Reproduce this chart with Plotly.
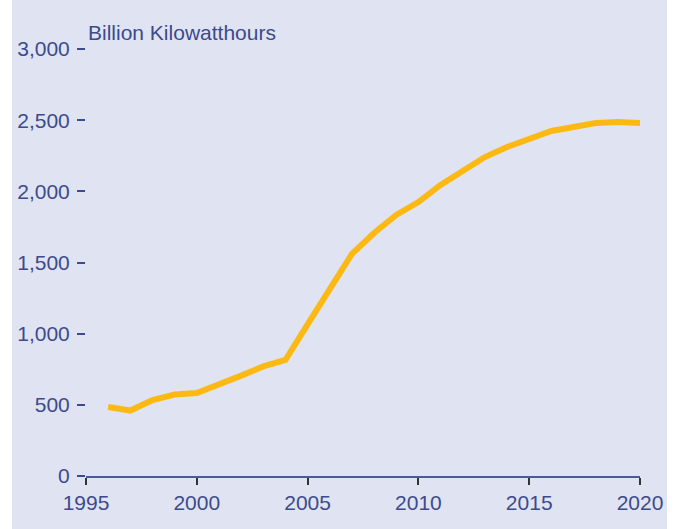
import plotly.graph_objects as go

years = list(range(1996, 2021))
values = [485, 460, 534, 572, 583, 639, 705, 770, 815, 1065, 1310, 1560, 1707, 1834, 1925, 2045, 2143, 2241, 2312, 2368, 2424, 2452, 2480, 2487, 2480]

y_ticks = [0, 500, 1000, 1500, 2000, 2500, 3000]
y_ticklabels = ["0", "500", "1,000", "1,500", "2,000", "2,500", "3,000"]
x_ticks = [1995, 2000, 2005, 2010, 2015, 2020]
x_ticklabels = ["1995", "2000", "2005", "2010", "2015", "2020"]

BG = "#E0E4F2"
TXT = "#3D4A8C"
LINE = "#FDB913"
FONT = "Liberation Sans, Arial, sans-serif"

W, H = 677, 529
L, R, T, B = 86, 37, 49, 53
pw = W - L - R
ph = H - T - B

fig = go.Figure()
fig.add_trace(go.Scatter(x=years, y=values, mode="lines",
                         line=dict(color=LINE, width=6), hoverinfo="skip"))

fig.update_layout(
    width=W, height=H,
    margin=dict(l=L, r=R, t=T, b=B, pad=0),
    paper_bgcolor="white", plot_bgcolor=BG,
    showlegend=False,
    font=dict(family=FONT, size=21, color=TXT),
    xaxis=dict(range=[1995, 2020], tickvals=x_ticks, ticktext=x_ticklabels,
               showgrid=False, zeroline=False, showline=True, linecolor="#4A5A9C",
               linewidth=2, ticks="outside", ticklen=7, tickwidth=2, tickcolor="#333333",
               tickfont=dict(family=FONT, size=21, color=TXT)),
    yaxis=dict(range=[0, 3000], tickvals=y_ticks, ticktext=y_ticklabels,
               showgrid=False, zeroline=False, showline=False,
               ticks="outside", ticklen=8, tickwidth=1.5, tickcolor=TXT,
               ticklabelstandoff=3,
               tickfont=dict(family=FONT, size=21, color=TXT)),
    annotations=[dict(text="Billion Kilowatthours", xref="paper", yref="paper",
                      x=0, y=1, xanchor="left", yanchor="bottom", yshift=3, xshift=0,
                      showarrow=False, font=dict(family=FONT, size=21, color=TXT))],
    shapes=[
        dict(type="rect", xref="paper", yref="paper",
             x0=(12 - L) / pw, x1=(667 - L) / pw, y0=-1, y1=2,
             fillcolor=BG, line=dict(width=0), layer="below"),
    ],
)

fig.write_html("out.html", config={"displayModeBar": False},
               post_script="document.body.style.margin='0';document.body.style.padding='0';")
